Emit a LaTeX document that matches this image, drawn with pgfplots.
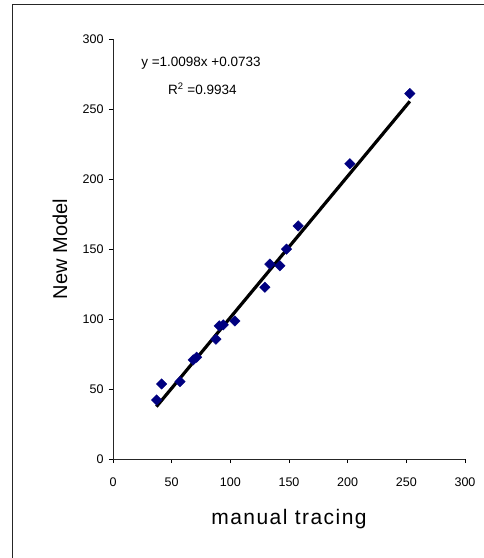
\documentclass[border=0pt]{standalone}
\usepackage{fontspec}
\setmainfont{Liberation Sans}
\usepackage{pgfplots}
\pgfplotsset{compat=1.18}

\definecolor{markblue}{HTML}{000080}

\begin{document}
\begin{tikzpicture}[x=1pt,y=1pt]
  \useasboundingbox (0,0) rectangle (484,558);
  % outer chart frame (right and bottom edges are cut off in the reference)
  \draw[line width=1.2pt, black!85] (12.5,0) -- (12.5,553.5) -- (484,553.5);

  \begin{axis}[
      at={(113pt,99pt)}, anchor=south west,
      scale only axis,
      width=352pt, height=420pt,
      xmin=0, xmax=300,
      ymin=0, ymax=300,
      xtick={0,50,...,300},
      ytick={0,50,...,300},
      axis lines=left,
      axis line style={-, line width=0.7pt, black!85},
      tick align=outside,
      major tick length=4pt,
      tick style={black, line width=0.6pt},
      /pgf/number format/assume math mode=true,
      ticklabel style={font=\fontsize{12.5}{14}\selectfont},
      xticklabel style={yshift=-11pt},
      yticklabel style={xshift=-2pt},
      xlabel={manual tracing},
      ylabel={New Model},
      xlabel style={at={(axis description cs:0.5,-0.1429)}, anchor=center,
        font=\fontsize{21}{24}\selectfont\addfontfeature{LetterSpace=7}},
      ylabel style={at={(axis description cs:-0.1506,0.5)}, anchor=center,
        font=\fontsize{20}{24}\selectfont},
      clip=false,
    ]

    % regression line y = 1.0098x + 0.0733
    \addplot[black, line width=3.2pt] coordinates {(37,37.4) (253,255.5)};

    \addplot[only marks, mark=square*, mark size=3.7pt,
      mark options={rotate=45, fill=markblue, draw=markblue}]
    coordinates {
      (37.2,42.2) (41.5,53.6) (57.1,55.3) (68.4,70.8) (71.3,72.7)
      (87.7,85.6) (90.5,95.1) (94.0,95.8) (103.9,98.6) (129.5,122.7)
      (133.7,139.2) (142.2,138.0) (147.9,149.9) (157.8,166.5)
      (201.9,210.9) (253,261)
    };

    \node[font=\fontsize{13.5}{15}\selectfont] at (axis cs:75,282.4) {y =1.0098x +0.0733};
    \node[font=\fontsize{13.5}{15}\selectfont] at (axis cs:76.2,264.5) {R\textsuperscript{2} =0.9934};
  \end{axis}
\end{tikzpicture}
\end{document}
